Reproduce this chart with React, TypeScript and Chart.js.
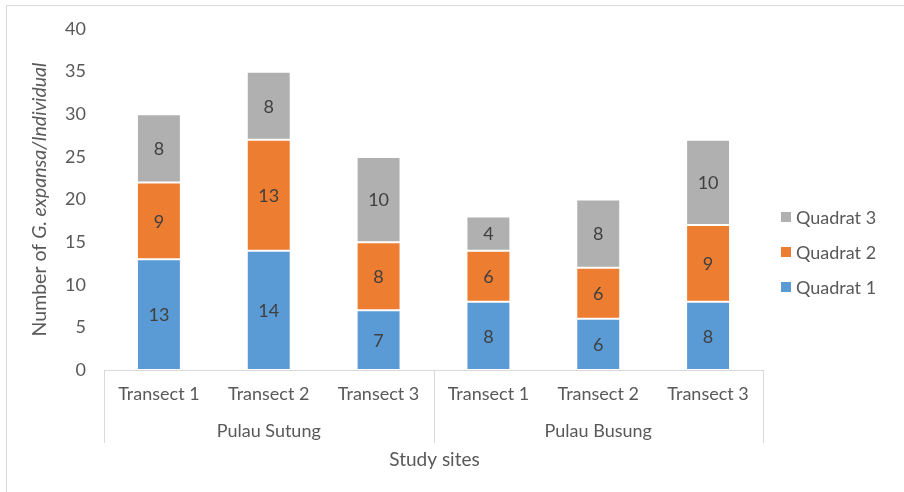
import React, { useEffect, useRef } from "react";
import { Chart, registerables } from "chart.js";

Chart.register(...registerables);

const categories = ["Transect 1", "Transect 2", "Transect 3", "Transect 1", "Transect 2", "Transect 3"];
const groups = ["Pulau Sutung", "Pulau Busung"];
const quadrat1 = [13, 14, 7, 8, 6, 8];
const quadrat2 = [9, 13, 8, 6, 6, 9];
const quadrat3 = [8, 8, 10, 4, 8, 10];
const seriesNames = ["Quadrat 1", "Quadrat 2", "Quadrat 3"];
const seriesColors = ["#5B9BD5", "#ED7D31", "#B0B0B0"];

const FONT = "Lato, 'DejaVu Sans', sans-serif";
const TEXT = "#595959";
const FS = 18;

const extrasPlugin = {
  id: "extras",
  beforeDraw(chart: any) {
    const ctx = chart.ctx;
    ctx.save();
    ctx.strokeStyle = "#D9D9D9";
    ctx.lineWidth = 1;
    ctx.strokeRect(6.5, 5.5, 1000, 1000);
    ctx.restore();
  },
  afterDraw(chart: any) {
    const ctx = chart.ctx;
    const area = chart.chartArea;
    const xs = chart.scales.x;
    ctx.save();
    // data labels
    ctx.font = `${FS}px ${FONT}`;
    ctx.fillStyle = "#404040";
    ctx.textAlign = "center";
    ctx.textBaseline = "middle";
    chart.data.datasets.forEach((ds: any, di: number) => {
      const meta = chart.getDatasetMeta(di);
      meta.data.forEach((el: any, i: number) => {
        const p = el.getProps(["x", "y", "base"], true);
        ctx.fillText(String(ds.data[i]), p.x, (p.y + p.base) / 2 + 1);
      });
    });
    // separators
    ctx.strokeStyle = "#D9D9D9";
    ctx.lineWidth = 1;
    const mid = (xs.getPixelForValue(2) + xs.getPixelForValue(3)) / 2;
    const sepX = [area.left, mid, area.right];
    sepX.forEach((x) => {
      const xx = Math.round(x) + 0.5;
      ctx.beginPath();
      ctx.moveTo(xx, area.bottom);
      ctx.lineTo(xx, area.bottom + 73);
      ctx.stroke();
    });
    // group labels
    ctx.fillStyle = TEXT;
    ctx.font = `${FS}px ${FONT}`;
    ctx.fillText(groups[0], xs.getPixelForValue(1), area.bottom + 61);
    ctx.fillText(groups[1], xs.getPixelForValue(4), area.bottom + 61);
    // x title
    ctx.font = `${FS + 1}px ${FONT}`;
    ctx.fillText("Study sites", (area.left + area.right) / 2 + 1, area.bottom + 90);
    // y title with italic part
    const parts = [
      { t: "Number of ", it: false },
      { t: "G. expansa", it: true },
      { t: "/Individual", it: true },
    ];
    const fsT = 19.5;
    const widths = parts.map((p) => {
      ctx.font = `${p.it ? "italic " : ""}${fsT}px ${FONT}`;
      return ctx.measureText(p.t).width;
    });
    const total = widths.reduce((a, b) => a + b, 0);
    ctx.translate(40, (area.top + area.bottom) / 2);
    ctx.rotate(-Math.PI / 2);
    ctx.textAlign = "left";
    let x = -total / 2;
    parts.forEach((p, i) => {
      ctx.font = `${p.it ? "italic " : ""}${fsT}px ${FONT}`;
      ctx.fillText(p.t, x, 0);
      x += widths[i];
    });
    ctx.setTransform(1, 0, 0, 1, 0, 0);
    // legend
    const legY = [287, 252, 217];
    chart.data.datasets.forEach((ds: any, di: number) => {
      const y = legY[di];
      ctx.fillStyle = ds.backgroundColor;
      ctx.fillRect(781, y - 5, 10, 10);
      ctx.fillStyle = TEXT;
      ctx.font = `${FS}px ${FONT}`;
      ctx.textAlign = "left";
      ctx.textBaseline = "middle";
      ctx.fillText(ds.label, 796, y + 1);
    });
    ctx.restore();
  },
};

export default function App() {
  const ref = useRef<HTMLCanvasElement | null>(null);
  useEffect(() => {
    if (!ref.current) return;
    const values = [quadrat1, quadrat2, quadrat3];
    const chart = new Chart(ref.current, {
      type: "bar",
      data: {
        labels: categories,
        datasets: values.map((v, i) => ({
          label: seriesNames[i],
          data: v,
          backgroundColor: seriesColors[i],
          borderColor: "#FFFFFF",
          borderWidth: 1,
          borderSkipped: false,
          categoryPercentage: 1,
          barPercentage: 0.4,
        })),
      },
      options: {
        animation: false,
        responsive: false,
        layout: { padding: { left: 0, right: 141, top: 29, bottom: 0 } },
        plugins: { legend: { display: false }, tooltip: { enabled: false } },
        scales: {
          x: {
            stacked: true,
            grid: { display: false, drawTicks: false },
            border: { display: true, color: "#D9D9D9", width: 1 },
            ticks: { color: TEXT, font: { family: FONT, size: FS }, padding: 13, maxRotation: 0, autoSkip: false },
            afterFit: (s: any) => { s.height = 122; },
          },
          y: {
            stacked: true,
            min: 0,
            max: 40,
            grid: { display: false, drawTicks: false },
            border: { display: false },
            ticks: { stepSize: 5, color: TEXT, font: { family: FONT, size: FS }, padding: 18 },
            afterFit: (s: any) => { s.width = 104; },
          },
        },
      },
      plugins: [extrasPlugin],
    });
    return () => chart.destroy();
  }, []);
  return (
    <div style={{ position: "absolute", left: 0, top: 0, width: 904, height: 492, background: "#fff" }}>
      <canvas ref={ref} width={904} height={492} style={{ width: 904, height: 492 }} />
    </div>
  );
}
